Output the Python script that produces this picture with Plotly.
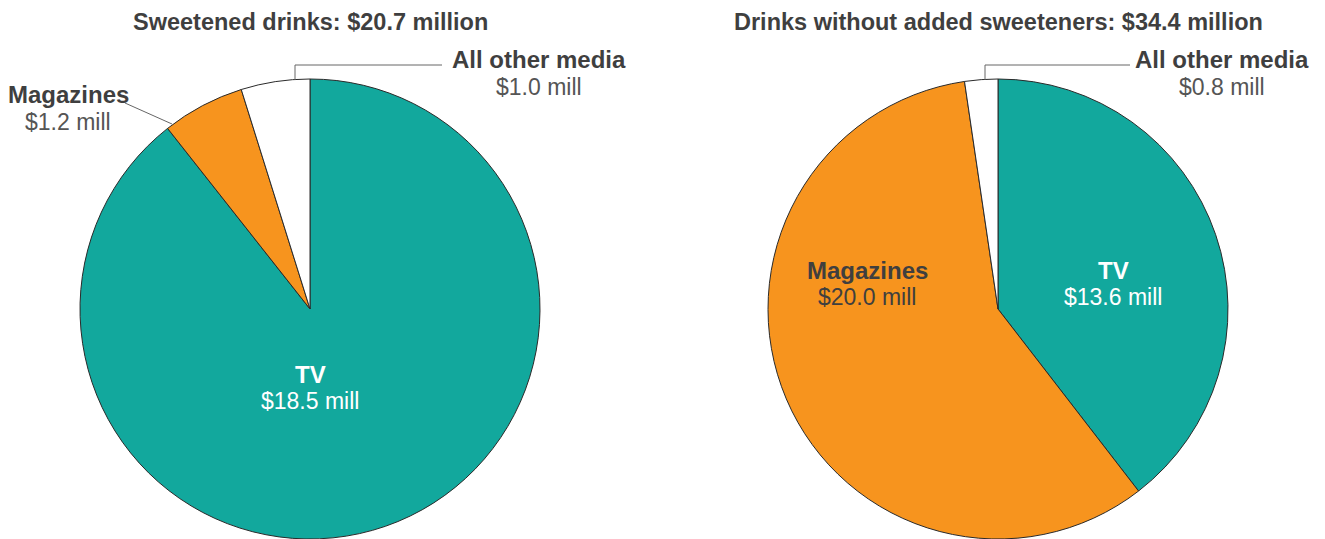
import plotly.graph_objects as go

categories = ["TV", "Magazines", "All other media"]
sweetened = [18.5, 1.2, 1.0]
unsweetened = [13.6, 20.0, 0.8]
titles = ["Sweetened drinks: $20.7 million", "Drinks without added sweeteners: $34.4 million"]
colors = ["#12A89D", "#F7941E", "#FFFFFF"]

W, H = 1325, 539
FONT = "Liberation Sans, Arial, sans-serif"
DARK = "#3f3f3f"

def px(x):
    return x / W

def py(y):
    return 1 - y / H

fig = go.Figure()
for vals, dom_x in [(sweetened, [80, 540]), (unsweetened, [768, 1228])]:
    fig.add_trace(go.Pie(
        labels=categories, values=vals, sort=False, direction="clockwise", rotation=0,
        marker=dict(colors=colors, line=dict(color="#2a2a2a", width=1)),
        textinfo="none", hoverinfo="label+value", showlegend=False,
        domain=dict(x=[px(dom_x[0]), px(dom_x[1])], y=[0, py(79)]),
    ))

def fmt(v):
    return f"${v:.1f} mill"

ann = []
def label(x, y, name, val, color=DARK, valcolor="#555555"):
    ann.append(dict(x=px(x), y=py(y), xref="paper", yref="paper", text=f"<b>{name}</b>",
                    showarrow=False, font=dict(family=FONT, size=24, color=color),
                    xanchor="center", yanchor="middle"))
    ann.append(dict(x=px(x), y=py(y + 27), xref="paper", yref="paper", text=fmt(val),
                    showarrow=False, font=dict(family=FONT, size=23, color=valcolor),
                    xanchor="center", yanchor="middle"))

# titles
for t, cx in zip(titles, [310, 998]):
    ann.append(dict(x=px(cx), y=py(22), xref="paper", yref="paper", text=f"<b>{t}</b>",
                    showarrow=False, font=dict(family=FONT, size=23.5, color=DARK),
                    xanchor="center", yanchor="middle"))

label(310, 374, categories[0], sweetened[0], "#FFFFFF", "#FFFFFF")
label(68, 95, categories[1], sweetened[1])
label(539, 60, categories[2], sweetened[2])
label(1113, 270, categories[0], unsweetened[0], "#FFFFFF", "#FFFFFF")
label(867, 270, categories[1], unsweetened[1], DARK, DARK)
label(1222, 60, categories[2], unsweetened[2])

LEADER = dict(color="#666666", width=1)
shapes = [
    dict(type="path", xref="paper", yref="paper",
         path=f"M {px(442)} {py(65)} L {px(295)} {py(65)} L {px(295)} {py(80)}",
         line=LEADER),
    dict(type="path", xref="paper", yref="paper",
         path=f"M {px(1130)} {py(65)} L {px(985)} {py(65)} L {px(985)} {py(80)}",
         line=LEADER),
    dict(type="line", xref="paper", yref="paper",
         x0=px(125), y0=py(103), x1=px(172), y1=py(124),
         line=LEADER),
]

fig.update_layout(width=W, height=H, margin=dict(l=0, r=0, t=0, b=0),
                  paper_bgcolor="white", plot_bgcolor="white",
                  annotations=ann, shapes=shapes, font=dict(family=FONT))
fig.write_html("out.html")
